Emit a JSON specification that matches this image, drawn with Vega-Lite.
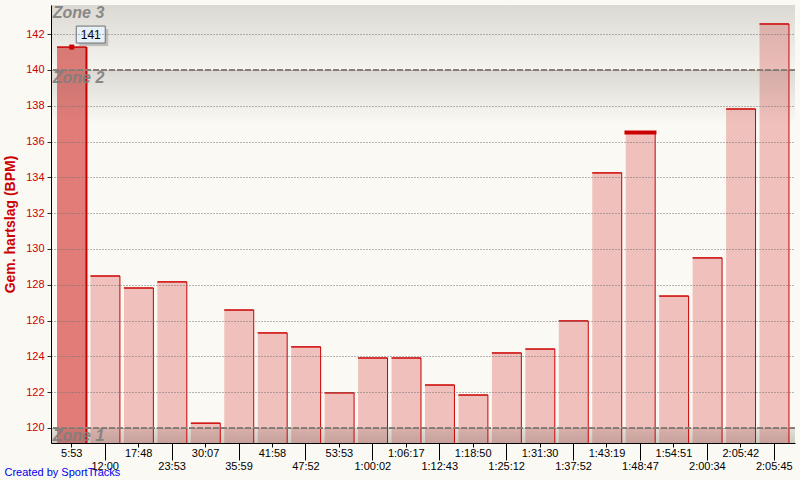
{
  "$schema": "https://vega.github.io/schema/vega-lite/v6.json",
  "width": 744,
  "height": 438,
  "autosize": {"type": "none"},
  "padding": {"left": 51, "top": 5, "right": 5, "bottom": 37},
  "background": "#faf9f4",
  "config": {"view": {"stroke": null}, "font": "Liberation Sans", "axisY": {"labelOverlap": false}},
  "datasets": {
    "bars": [
      {"label": "5:53", "value": 141.28},
      {"label": "12:00", "value": 128.49},
      {"label": "17:48", "value": 127.82},
      {"label": "23:53", "value": 128.16},
      {"label": "30:07", "value": 120.27},
      {"label": "35:59", "value": 126.59},
      {"label": "41:58", "value": 125.31},
      {"label": "47:52", "value": 124.53},
      {"label": "53:53", "value": 121.96},
      {"label": "1:00:02", "value": 123.91},
      {"label": "1:06:17", "value": 123.91},
      {"label": "1:12:43", "value": 122.4},
      {"label": "1:18:50", "value": 121.84},
      {"label": "1:25:12", "value": 124.19},
      {"label": "1:31:30", "value": 124.41},
      {"label": "1:37:52", "value": 125.98},
      {"label": "1:43:19", "value": 134.25},
      {"label": "1:48:47", "value": 136.5},
      {"label": "1:54:51", "value": 127.37},
      {"label": "2:00:34", "value": 129.5},
      {"label": "2:05:42", "value": 137.82},
      {"label": "2:05:45", "value": 142.57}
    ],
    "zones": [
      {"zone": "Zone 3", "lo": 140, "hi": 143.63},
      {"zone": "Zone 2", "lo": 120, "hi": 140},
      {"zone": "Zone 1", "lo": 119.16, "hi": 120}
    ]
  },
  "layer": [
    {
      "data": {"name": "bars"},
      "mark": {"type": "bar"},
      "encoding": {
        "x": {
          "field": "label", "type": "ordinal", "sort": null,
          "scale": {"paddingInner": 0.12, "paddingOuter": 0.18},
          "axis": {
            "title": "Created by SportTracks",
            "titleColor": "#0000ee",
            "titleFontSize": 11,
            "titleFontWeight": "normal",
            "titleX": -47,
            "titleY": 32,
            "titleAlign": "left",
            "titleBaseline": "alphabetic",
            "titleAnchor": "start",
            "labelAngle": 0,
            "labelColor": "#000000",
            "labelFontSize": 11,
            "labelBaseline": "top",
            "labelOverlap": false,
            "labelPadding": 0,
            "tickSize": {"expr": "round(datum.index*21)%2 == 1 ? 17 : 4"},
            "tickColor": "#000000",
            "domainColor": "#000000",
            "grid": false,
            "zindex": 1
          }
        },
        "y": {
          "field": "value", "type": "quantitative",
          "scale": {"domain": [119.16, 143.63], "nice": false, "zero": false},
          "axis": {
            "title": "Gem. hartslag (BPM)",
            "tickCount": 12,
            "labelOverlap": false,
            "labelSeparation": 0,
            "grid": true,
            "gridColor": "#707070",
            "gridDash": [1, 2],
            "gridWidth": 1,
            "domainColor": "#000000",
            "tickColor": "#333333",
            "tickSize": 4,
            "labelColor": "#cc0000",
            "labelFontSize": 11,
            "labelPadding": 3,
            "titleColor": "#cc0000",
            "titleFontSize": 14,
            "titleFontWeight": "bold",
            "titlePadding": 8,
            "zindex": 1
          }
        },
        "y2": {"datum": 119.16},
        "color": {"condition": {"test": "datum.label === '5:53'", "value": "#e27c79"}, "value": "#f0c0bc"}
      }
    },
    {
      "data": {"name": "zones"},
      "transform": [{"filter": "datum.zone === 'Zone 3'"}],
      "mark": {"type": "rect", "color": {"gradient": "linear", "x1": 0, "y1": 0, "x2": 0, "y2": 1, "stops": [{"offset": 0, "color": "rgba(100,90,80,0.2)"}, {"offset": 1, "color": "rgba(100,90,80,0.03)"}]}},
      "encoding": {"y": {"field": "hi", "type": "quantitative"}, "y2": {"field": "lo"}}
    },
    {
      "data": {"name": "zones"},
      "transform": [{"filter": "datum.zone === 'Zone 2'"}],
      "mark": {"type": "rect", "color": {"gradient": "linear", "x1": 0, "y1": 0, "x2": 0, "y2": 1, "stops": [{"offset": 0, "color": "rgba(100,90,80,0.2)"}, {"offset": 0.15, "color": "rgba(100,90,80,0)"}, {"offset": 1, "color": "rgba(100,90,80,0)"}]}},
      "encoding": {"y": {"field": "hi", "type": "quantitative"}, "y2": {"field": "lo"}}
    },
    {
      "data": {"name": "zones"},
      "transform": [{"filter": "datum.zone === 'Zone 1'"}],
      "mark": {"type": "rect", "color": {"gradient": "linear", "x1": 0, "y1": 0, "x2": 0, "y2": 1, "stops": [{"offset": 0, "color": "rgba(100,90,80,0.16)"}, {"offset": 1, "color": "rgba(100,90,80,0.3)"}]}},
      "encoding": {"y": {"field": "hi", "type": "quantitative"}, "y2": {"field": "lo"}}
    },
    {
      "data": {"name": "bars"},
      "mark": {"type": "rule", "color": "#cc0000"},
      "encoding": {
        "x": {"field": "label", "type": "ordinal", "sort": null, "bandPosition": 1},
        "y": {"field": "value", "type": "quantitative"},
        "y2": {"datum": 119.16},
        "strokeWidth": {"condition": {"test": "datum.label === '5:53'", "value": 2}, "value": 1}
      }
    },
    {
      "data": {"name": "bars"},
      "mark": {"type": "bar", "fillOpacity": 0, "stroke": "#cc0000", "strokeWidth": 1},
      "encoding": {
        "x": {"field": "label", "type": "ordinal", "sort": null},
        "y": {"field": "value", "type": "quantitative"},
        "y2": {"field": "value"}
      }
    },
    {
      "data": {"name": "bars"},
      "transform": [{"filter": "datum.label === '1:48:47'"}],
      "mark": {"type": "tick", "color": "#cc0000", "thickness": 4, "size": 32, "opacity": 1},
      "encoding": {
        "x": {"field": "label", "type": "ordinal", "sort": null},
        "y": {"field": "value", "type": "quantitative"}
      }
    },
    {
      "data": {"name": "zones"},
      "transform": [{"filter": "datum.zone !== 'Zone 1'"}],
      "mark": {"type": "rule", "color": "#8c8079", "strokeDash": [6, 2], "strokeWidth": 2},
      "encoding": {"y": {"field": "lo", "type": "quantitative"}}
    },
    {
      "data": {"name": "zones"},
      "mark": {"type": "text", "align": "left", "baseline": "top", "dx": -19, "dy": 0, "fontSize": 16, "fontStyle": "italic", "fontWeight": "bold", "color": "#7f7f7f", "opacity": 0.9},
      "encoding": {
        "x": {"datum": "5:53"},
        "y": {"field": "hi", "type": "quantitative"},
        "text": {"field": "zone"}
      }
    },
    {
      "data": {"name": "bars"},
      "transform": [{"filter": "datum.label === '5:53'"}],
      "mark": {"type": "point", "shape": "M-1,-0.586L1,-0.586L1,0.586L-1,0.586Z", "size": 841, "filled": true, "fill": "#a0a0a0", "opacity": 0.6, "strokeWidth": 0, "xOffset": 22, "yOffset": -9.5},
      "encoding": {
        "x": {"field": "label", "type": "ordinal", "sort": null},
        "y": {"field": "value", "type": "quantitative"}
      }
    },
    {
      "data": {"name": "bars"},
      "transform": [{"filter": "datum.label === '5:53'"}],
      "mark": {"type": "point", "shape": "M-1,-0.586L1,-0.586L1,0.586L-1,0.586Z", "size": 841, "filled": true, "fill": "#e8f0f8", "stroke": "#6e6e6e", "strokeWidth": 1, "opacity": 1, "xOffset": 19, "yOffset": -12.5},
      "encoding": {
        "x": {"field": "label", "type": "ordinal", "sort": null},
        "y": {"field": "value", "type": "quantitative"}
      }
    },
    {
      "data": {"name": "bars"},
      "transform": [{"filter": "datum.label === '5:53'"}],
      "mark": {"type": "text", "fontSize": 12, "color": "#000000", "dx": 19, "dy": -12.5, "align": "center", "baseline": "middle"},
      "encoding": {
        "x": {"field": "label", "type": "ordinal", "sort": null},
        "y": {"field": "value", "type": "quantitative"},
        "text": {"field": "value", "type": "quantitative", "format": ".0f"}
      }
    },
    {
      "data": {"name": "bars"},
      "transform": [{"filter": "datum.label === '5:53'"}],
      "mark": {"type": "point", "shape": "square", "size": 25, "filled": true, "color": "#cc0000", "opacity": 1},
      "encoding": {
        "x": {"field": "label", "type": "ordinal", "sort": null},
        "y": {"field": "value", "type": "quantitative"}
      }
    }
  ]
}
